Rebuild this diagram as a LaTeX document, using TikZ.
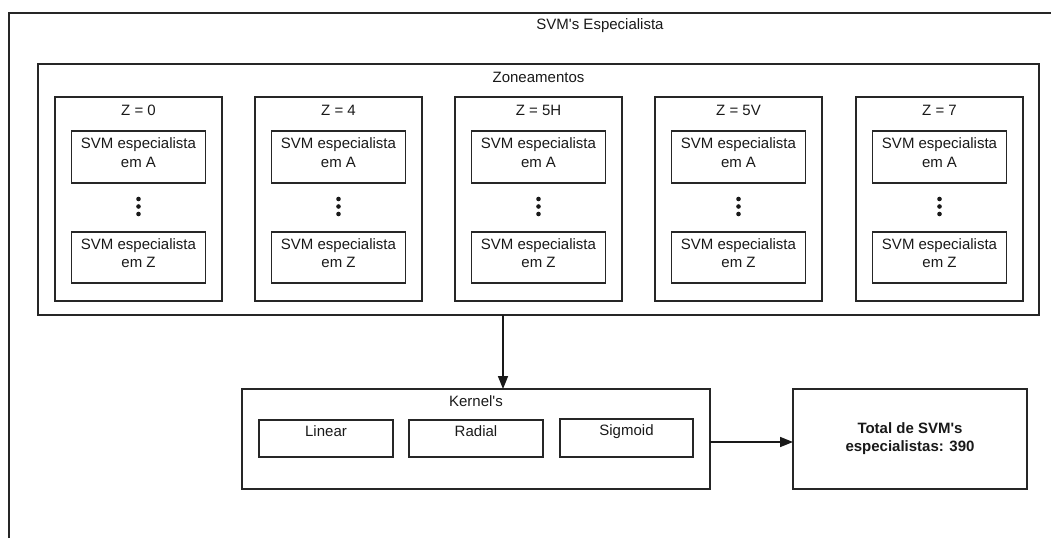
\documentclass[tikz,border=0pt]{standalone}
\usepackage{fontspec}
\setmainfont{Liberation Sans}
\usetikzlibrary{arrows.meta}
\begin{document}
\begin{tikzpicture}[x=1pt,y=-1pt,
  font=\fontsize{15}{18.5}\selectfont,
  ln/.style={draw=black!85,line width=1.6pt},
  box/.style={ln,rectangle,inner sep=0pt,outer sep=0pt},
  txt/.style={align=center,inner sep=0pt,text=black!90},
  arr/.style={draw=black!90,line width=1.6pt,-{Triangle[length=13pt,width=10pt]}},
  vdot/.style={circle,fill=black!90,inner sep=0pt,minimum size=4.6pt}]
\useasboundingbox (0,0) rectangle (1051,538);
% outer frame
\draw[ln] (9,538) -- (9,13) -- (1052,13);
\node[txt] (title) at (600,26) {SVM\textquotesingle s Especialista};
% zoneamentos
\node[box,minimum width=1001pt,minimum height=251pt] (zone) at (538.5,189.5) {};
\node[txt] (zonelbl) at (538.5,77) {Zoneamentos};
\foreach \cx/\lab/\id in {138.5/{Z = 0}/c1, 338.5/{Z = 4}/c2, 538.5/{Z = 5H}/c3, 738.5/{Z = 5V}/c4, 939.5/{Z = 7}/c5}{
  \node[box,minimum width=167pt,minimum height=204pt] (\id) at (\cx,199) {};
  \node[txt] (\id lbl) at (\cx,110) {\lab};
  \node[box,minimum width=134pt,minimum height=52pt] (\id a) at (\cx,157) {};
  \node[txt] (\id at) at (\cx,152.5) {SVM especialista\\em A};
  \node[vdot] (\id d1) at (\cx,199) {};
  \node[vdot] (\id d2) at (\cx,206.5) {};
  \node[vdot] (\id d3) at (\cx,214) {};
  \node[box,minimum width=134pt,minimum height=51pt] (\id z) at (\cx,257.5) {};
  \node[txt] (\id zt) at (\cx,253) {SVM especialista\\em Z};
}
% kernels
\node[box,minimum width=468pt,minimum height=100pt] (kern) at (476,439) {};
\node[txt] (kernlbl) at (476,401) {Kernel\textquotesingle s};
\node[box,minimum width=134pt,minimum height=37pt] (lin) at (326,438.5) {};
\node[txt] (lint) at (326,431.5) {Linear};
\node[box,minimum width=134pt,minimum height=37pt] (rad) at (476,438.5) {};
\node[txt] (radt) at (476,431.5) {Radial};
\node[box,minimum width=133pt,minimum height=38pt] (sig) at (626.5,438) {};
\node[txt] (sigt) at (626.5,431.5) {Sigmoid};
% total
\node[box,minimum width=234pt,minimum height=100pt] (total) at (910,439) {};
\node[txt,font=\fontsize{15}{18}\selectfont\bfseries] (totalt) at (910,439) {Total de SVM\textquotesingle s\\especialistas: 390};
% connectors
\draw[arr] ([xshift=-35.5pt]zone.south) -- ([xshift=-35.5pt]zone.south |- kern.north);
\draw[arr] ([yshift=-3pt]kern.east) -- ([yshift=-3pt]total.west);
\end{tikzpicture}
\end{document}
